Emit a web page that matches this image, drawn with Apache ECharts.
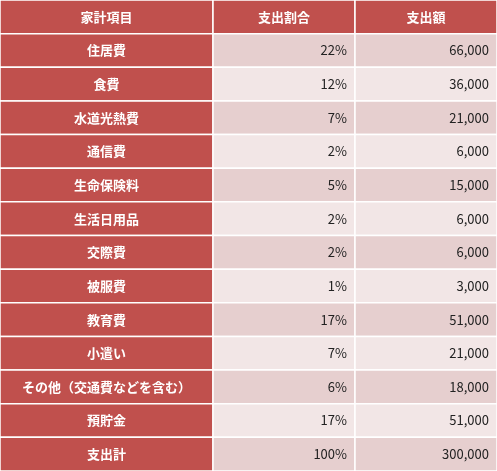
<!DOCTYPE html>
<html><head><meta charset="utf-8">
<script src="https://cdn.jsdelivr.net/npm/echarts@6/dist/echarts.min.js"></script>
<style>html,body{margin:0;padding:0;background:#fff}#c{width:497px;height:471px}</style>
</head><body><div id="c"></div>
<script>
const headers = ['家計項目', '支出割合', '支出額'];
const items = ['住居費','食費','水道光熱費','通信費','生命保険料','生活日用品','交際費','被服費','教育費','小遣い','その他（交通費などを含む）','預貯金','支出計'];
const ratios = ['22%','12%','7%','2%','5%','2%','2%','1%','17%','7%','6%','17%','100%'];
const amounts = ['66,000','36,000','21,000','6,000','15,000','6,000','6,000','3,000','51,000','21,000','18,000','51,000','300,000'];

const rowsAll = [headers].concat(items.map((it, i) => [it, ratios[i], amounts[i]]));
const rowCats = rowsAll.map((_, i) => String(i));
const colEdges = [0, 213, 355, 497];
const data = [];
rowsAll.forEach((row, r) => row.forEach((txt, c) => data.push([c, r, txt])));

const chart = echarts.init(document.getElementById('c'), null, {renderer: 'canvas'});
chart.setOption({
  animation: false,
  grid: {left: 0, right: 0, top: 0, bottom: 0},
  xAxis: {type: 'category', data: headers, show: false},
  yAxis: {type: 'category', data: rowCats, inverse: true, show: false},
  series: [{
    type: 'custom',
    data: data,
    renderItem: function (params, api) {
      const c = api.value(0), r = api.value(1), txt = api.value(2);
      const cs = params.coordSys;
      const center = api.coord([c, r]);
      const h = api.size([1, 1])[1];
      const x0 = cs.x + colEdges[c], x1 = cs.x + colEdges[c + 1];
      const y0 = center[1] - h / 2;
      let fill, color, weight, align, tx;
      if (r === 0 || c === 0) {
        fill = '#C0504D'; color = '#fff'; weight = 'bold'; align = 'center'; tx = (x0 + x1) / 2;
      } else {
        fill = (r % 2 === 1) ? '#E6CFCF' : '#F2E6E6';
        color = '#222'; weight = 'normal'; align = 'right'; tx = x1 - 8;
      }
      return {type: 'group', children: [
        {type: 'rect', shape: {x: x0, y: y0, width: x1 - x0, height: h},
         style: {fill: fill, stroke: '#fff', lineWidth: 1.5}},
        {type: 'text', style: {x: tx, y: center[1], text: txt, fill: color,
          font: weight + ' 13px "Noto Sans CJK JP", sans-serif', textAlign: align, textVerticalAlign: 'middle'}}
      ]};
    }
  }]
});
</script></body></html>
